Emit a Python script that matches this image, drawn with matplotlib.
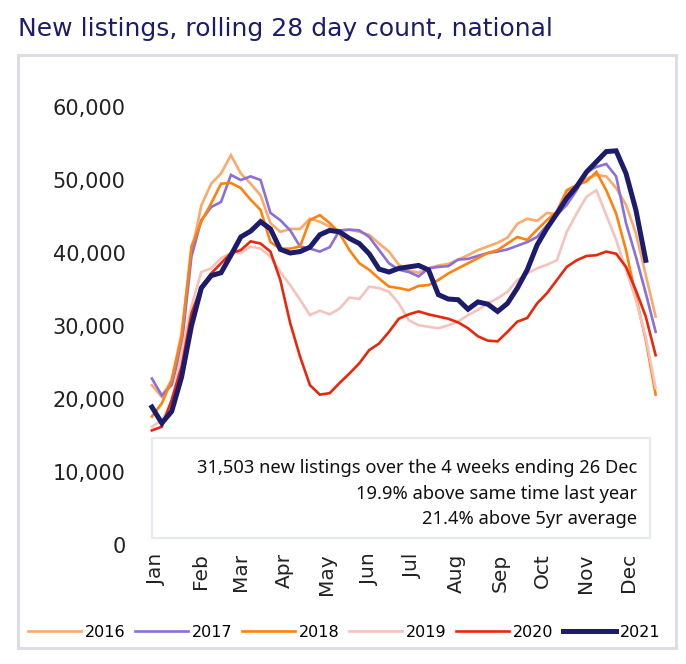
import numpy as np
import matplotlib
matplotlib.use("Agg")
import matplotlib.pyplot as plt
from matplotlib.patches import Rectangle

# weekly rolling 28 day counts
y2016 = [21900, 20300, 22600, 29000, 40000, 46500, 49500, 50900, 53400, 50900,
         49500, 47900, 44100, 42900, 43300, 43300, 44700, 44300, 43600, 43100,
         43200, 42900, 42500, 41300, 40200, 38400, 37600, 37300, 37900, 38300,
         38500, 39100, 39700, 40400, 40900, 41400, 42100, 44000, 44700, 44400,
         45500, 45300, 48200, 49300, 50200, 50700, 50500, 48900, 46600, 42700,
         37000, 31300]
y2017 = [22800, 20500, 21900, 27200, 39500, 44500, 46300, 47000, 50700, 50000,
         50500, 50000, 45500, 44500, 43100, 40900, 40600, 40200, 40800, 43100,
         43200, 43100, 42200, 40400, 38600, 37700, 37400, 36800, 37900, 38100,
         38200, 39100, 39200, 39600, 40000, 40200, 40500, 41000, 41500, 42200,
         43800, 45200, 46600, 48600, 51100, 51800, 52200, 50500, 44100, 39500,
         34500, 29200]
y2018 = [17600, 19400, 22600, 28500, 40900, 44300, 46800, 49500, 49600, 48900,
         47300, 45900, 41500, 40600, 40600, 40900, 44500, 45200, 44100, 42700,
         40400, 38600, 37700, 36500, 35400, 35200, 34900, 35500, 35600, 36300,
         37200, 37900, 38600, 39300, 40000, 40400, 41300, 42200, 41800, 43200,
         44500, 45700, 48600, 49300, 49800, 51100, 48600, 45400, 40400, 34000,
         28100, 20600]
y2019 = [16200, 17100, 19400, 26300, 32700, 37400, 37900, 39300, 40000, 40000,
         40900, 40600, 39500, 37400, 35600, 33600, 31500, 32100, 31600, 32400,
         33900, 33700, 35400, 35200, 34700, 33100, 30800, 30100, 29900, 29700,
         30100, 30600, 31500, 32200, 33100, 33800, 34700, 36300, 37200, 37900,
         38400, 39000, 42900, 45400, 47700, 48600, 45200, 41800, 37700, 33600,
         28500, 21500]
y2020 = [15700, 16200, 19900, 24400, 31700, 35400, 37200, 38600, 40000, 40400,
         41600, 41300, 40200, 36300, 30400, 25800, 21900, 20600, 20800, 22200,
         23500, 24900, 26700, 27600, 29200, 31000, 31600, 32000, 31600, 31300,
         31000, 30500, 29700, 28600, 28000, 27900, 29200, 30600, 31100, 33100,
         34500, 36300, 38100, 39000, 39600, 39700, 40200, 39900, 38100, 34900,
         31300, 26000]
y2021 = [18900, 16700, 18300, 23000, 30000, 35200, 36900, 37300, 39700, 42200,
         43000, 44300, 43300, 40500, 40000, 40200, 40800, 42500, 43100, 42900,
         42000, 41300, 39900, 37800, 37400, 37900, 38100, 38300, 37700, 34300,
         33700, 33600, 32300, 33300, 33000, 32000, 33100, 35200, 37700, 41100,
         43400, 45400, 47500, 49100, 51100, 52500, 53900, 54000, 50900, 45900,
         39000]

years = ["2016", "2017", "2018", "2019", "2020", "2021"]
series = [y2016, y2017, y2018, y2019, y2020, y2021]
colors = ["#F9AA6C", "#8B6FDB", "#FF820F", "#F6C3BC", "#E8280C", "#1C1B6C"]
widths = [1.9, 1.9, 1.9, 1.9, 1.9, 3.6]

months = ["Jan", "Feb", "Mar", "Apr", "May", "Jun",
          "Jul", "Aug", "Sep", "Oct", "Nov", "Dec"]
month_start = [0, 31, 59, 90, 120, 151, 181, 212, 243, 273, 304, 334]

fig = plt.figure(figsize=(6.86, 6.64), dpi=100)
ax = fig.add_axes([0.2157, 0.1792, 0.7458, 0.6596])

for yr, vals, c, lw in zip(years, series, colors, widths):
    ax.plot(np.arange(len(vals)), vals, color=c, lw=lw, label=yr,
            solid_joinstyle="miter", zorder=3)

ax.set_xlim(-0.4, 51.4)
ax.set_ylim(0, 60000)
ax.set_yticks(np.arange(0, 60001, 10000))
ax.set_yticklabels([f"{v:,}" for v in range(0, 60001, 10000)],
                   fontsize=15, family="DejaVu Sans", color="#222222")
ax.set_xticks([d / 7 + 0.5 for d in month_start])
ax.set_xticklabels(months, rotation=90, fontsize=14.5, family="DejaVu Sans",
                   color="#222222", va="top")
ax.tick_params(axis="y", length=0, pad=16)
ax.tick_params(axis="x", length=0, pad=6)
for s in ax.spines.values():
    s.set_visible(False)

# outer frame
fig.patches.append(Rectangle((0.0262, 0.0241), 0.9592, 0.8931,
                             transform=fig.transFigure, fill=False,
                             edgecolor="#DDDDE3", lw=2.2, zorder=0))
# note box
fig.patches.append(Rectangle((0.2216, 0.1898), 0.726, 0.1506,
                             transform=fig.transFigure, facecolor="white",
                             edgecolor="#E4EAED", lw=1.6, zorder=5))
notes = ["31,503 new listings over the 4 weeks ending 26 Dec",
         "19.9% above same time last year",
         "21.4% above 5yr average"]
for i, t in enumerate(notes):
    fig.text(0.9285, 0.295 - i * 0.0385, t, ha="right", va="center",
             fontsize=13.2, family="Noto Sans", color="#111111", zorder=6)

fig.text(0.0262, 0.956, "New listings, rolling 28 day count, national",
         fontsize=18, family="DejaVu Sans", color="#1C1B6C", va="center")

fig.legend(loc="center", bbox_to_anchor=(0.502, 0.048), ncol=6,
           frameon=False, handlelength=3.3, handletextpad=0.25,
           columnspacing=0.6, prop={"family": "DejaVu Sans", "size": 11.5})

fig.savefig("out.png", dpi=100)
